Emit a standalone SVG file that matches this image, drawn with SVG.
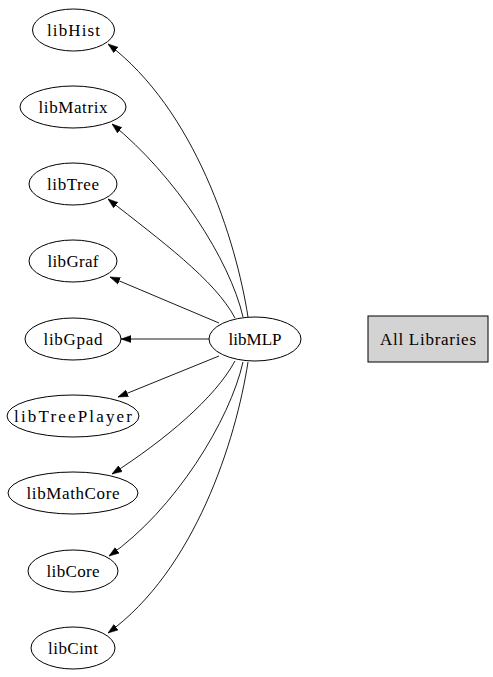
<svg xmlns="http://www.w3.org/2000/svg" width="493" height="677" viewBox="0 0 493 677">
<defs>
<style>
.n ellipse{fill:#fff;stroke:#000;stroke-width:1}
.n text,.b text{font-family:"Liberation Serif","Times New Roman",serif;font-size:17px;fill:#000;text-anchor:middle}
.e path{fill:none;stroke:#000;stroke-width:0.9;marker-end:url(#ah)}
</style>
<marker id="ah" markerUnits="userSpaceOnUse" markerWidth="10" markerHeight="8" refX="10" refY="3.5" orient="auto" viewBox="0 0 10 7">
<path d="M0,0 L10,3.5 L0,7 Z" fill="#000" stroke="#000" stroke-width="0.5"/>
</marker>
</defs>
<rect width="493" height="677" fill="#fff"/>
<g id="edges" class="e">
<path d="M248,317 C236,240 195,110 108,44"/>
<path d="M243,317 C230,260 175,175 112,124"/>
<path d="M235,318 C215,280 160,240 108,199"/>
<path d="M219,323 L110,277"/>
<path d="M209,339 L121,339"/>
<path d="M219,356 L118,397"/>
<path d="M235,361 C215,398 165,440 112,474"/>
<path d="M243,362 C230,420 175,510 109,556"/>
<path d="M248,362 C236,440 195,570 108,633"/>
</g>
<g id="libHist" class="n"><ellipse cx="73.5" cy="30" rx="41" ry="21"/><text x="73.5" y="36" textLength="53" lengthAdjust="spacing">libHist</text></g>
<g id="libMatrix" class="n"><ellipse cx="73" cy="107" rx="53" ry="21"/><text x="73" y="113" textLength="69" lengthAdjust="spacing">libMatrix</text></g>
<g id="libTree" class="n"><ellipse cx="73" cy="184" rx="44" ry="21"/><text x="73" y="190" textLength="52" lengthAdjust="spacing">libTree</text></g>
<g id="libGraf" class="n"><ellipse cx="73" cy="261" rx="44" ry="21"/><text x="73" y="267" textLength="51" lengthAdjust="spacing">libGraf</text></g>
<g id="libGpad" class="n"><ellipse cx="73" cy="339" rx="48" ry="21"/><text x="73" y="345" textLength="59" lengthAdjust="spacing">libGpad</text></g>
<g id="libTreePlayer" class="n"><ellipse cx="73" cy="416" rx="66" ry="21"/><text x="73" y="422" textLength="118" lengthAdjust="spacing">libTreePlayer</text></g>
<g id="libMathCore" class="n"><ellipse cx="73" cy="493" rx="65" ry="21"/><text x="73" y="499" textLength="93" lengthAdjust="spacing">libMathCore</text></g>
<g id="libCore" class="n"><ellipse cx="73" cy="571" rx="45" ry="21"/><text x="73" y="577" textLength="53" lengthAdjust="spacing">libCore</text></g>
<g id="libCint" class="n"><ellipse cx="73" cy="648" rx="42" ry="21"/><text x="73" y="654" textLength="50" lengthAdjust="spacing">libCint</text></g>
<g id="libMLP" class="n"><ellipse cx="255" cy="339" rx="46" ry="22"/><text x="255" y="345" textLength="53" lengthAdjust="spacing">libMLP</text></g>
<g id="AllLibraries" class="b"><rect x="368" y="316" width="120" height="46" fill="#d3d3d3" stroke="#000" stroke-width="1"/><text x="428" y="345" textLength="96" lengthAdjust="spacing">All Libraries</text></g>
</svg>
